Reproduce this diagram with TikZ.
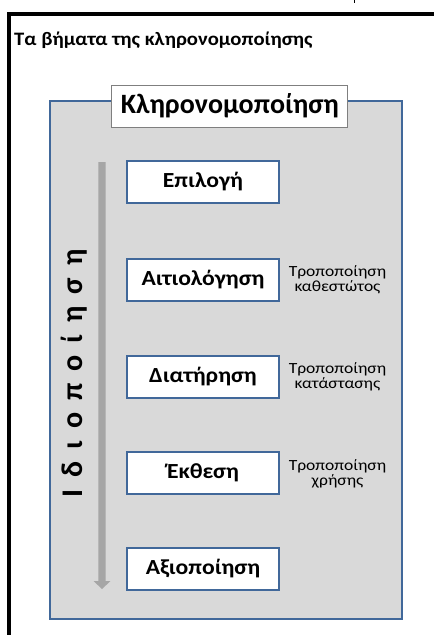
\documentclass[tikz,border=0pt]{standalone}
\usepackage{fontspec}
\setmainfont{Carlito}
\definecolor{panelgray}{HTML}{D9D9D9}
\definecolor{panelblue}{HTML}{41689A}
\definecolor{arrowgray}{HTML}{A6A6A6}
\definecolor{titleborder}{HTML}{7F7F7F}
\tikzset{
  stepbox/.style={draw=panelblue, line width=2pt, fill=white, xscale=1.1, minimum width=138.2pt, minimum height=42pt, inner sep=0pt, font=\fontsize{21.5}{24}\selectfont\bfseries},
  sidelabel/.style={align=center, xscale=1.13, inner sep=0pt, font=\fontsize{15.5}{15.3}\selectfont},
}
\begin{document}
\begin{tikzpicture}[x=1pt,y=-1pt]
\useasboundingbox (0,0) rectangle (434,635);
\fill[white] (0,0) rectangle (434,635);
% outer frame
\draw[line width=3.5pt] (9,635) -- (9,13.8) -- (434,13.8);
\fill[black] (353.6,0) rectangle (355.4,3.2);
% title
\node[anchor=base west, inner sep=0pt, xscale=1.087, font=\fontsize{19}{22}\selectfont\bfseries] (title) at (14,45.5) {Τα βήματα της κληρονομοποίησης};
% panel
\draw[draw=panelblue, fill=panelgray, line width=2pt] (49.5,101) rectangle (401.5,618.5);
\node[draw=titleborder, line width=1pt, fill=white, minimum width=236pt, minimum height=42pt, inner sep=0pt, font=\fontsize{28}{30}\selectfont\bfseries] (head) at (229.8,106) {Κληρονομοποίηση};
% arrow
\coordinate (astart) at (102,162);
\coordinate (aend) at (102,589);
\fill[arrowgray] (98.3,162) -- (105.7,162) -- (105.7,581) -- (110.5,581) -- (102,589) -- (93.5,581) -- (98.3,581) -- cycle;
% vertical label
\node[rotate=90, anchor=base, inner sep=0pt, font=\fontsize{30}{30}\selectfont\bfseries] (idio) at (82,373.5)
  {Ι\hspace{12pt}δ\hspace{12pt}ι\hspace{12pt}ο\hspace{12pt}π\hspace{12pt}ο\hspace{12pt}ί\hspace{12pt}η\hspace{12pt}σ\hspace{12pt}η};
% steps
\node[stepbox] (s1) at (203,182) {Επιλογή};
\node[stepbox] (s2) at (203,279.5) {Αιτιολόγηση};
\node[stepbox] (s3) at (203,376.5) {Διατήρηση};
\node[stepbox] (s4) at (203,472.5) {Έκθεση};
\node[stepbox] (s5) at (203,568.5) {Αξιοποίηση};
% side labels
\node[sidelabel] (l2) at (337.5,279.5) {Τροποποίηση\\καθεστώτος};
\node[sidelabel] (l3) at (337.5,376.5) {Τροποποίηση\\κατάστασης};
\node[sidelabel] (l4) at (337.5,473.5) {Τροποποίηση\\χρήσης};
\end{tikzpicture}
\end{document}
